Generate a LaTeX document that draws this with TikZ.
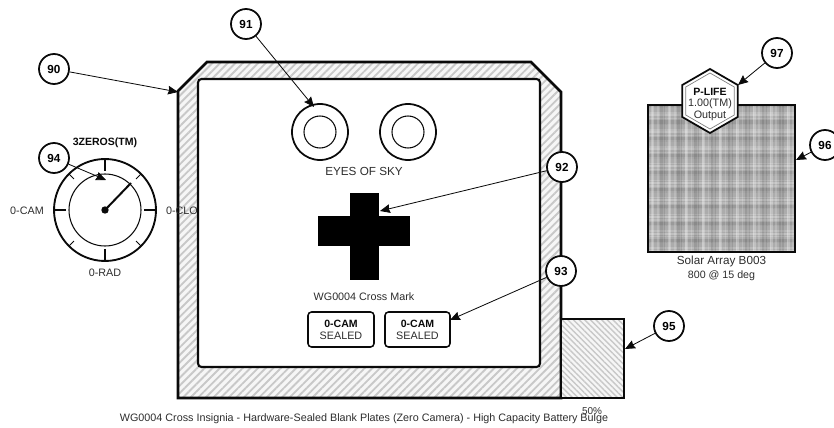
\documentclass[tikz,border=0pt]{standalone}
\usepackage{fontspec}
\setmainfont{Liberation Sans}
\usetikzlibrary{arrows.meta, shapes.geometric, patterns.meta, calc}
\definecolor{wgink}{RGB}{10,10,10}
\definecolor{wgtext}{RGB}{45,45,45}
\definecolor{wgstripe}{RGB}{200,200,200}
\definecolor{wgpale}{RGB}{246,246,246}
\definecolor{wgplaid}{RGB}{172,172,172}
\tikzset{
    callout/.style={circle, draw=wgink, line width=1.5pt, fill=white, minimum size=0.9cm, inner sep=0pt,
                    font=\fontsize{10}{11}\bfseries\selectfont},
    leader/.style={-{Stealth[length=3mm, width=2.6mm, inset=0.3mm]}, wgink, line width=0.7pt},
    lbl/.style={font=\fontsize{9.2}{11}\selectfont, text=wgtext, inner sep=0pt},
    blbl/.style={lbl, font=\fontsize{9}{11}\bfseries\selectfont, text=wgink},
    wall/.style={draw=wgink, line width=2.2pt, line join=miter},
    plate/.style={draw=wgink, line width=1.3pt, rounded corners=3pt, fill=white},
    hexplate/.style={regular polygon, regular polygon sides=6, shape border rotate=30, inner sep=0pt},
}
\begin{document}
\begin{tikzpicture}[x=0.03cm, y=-0.03cm]
    \useasboundingbox (0,0) rectangle (834,428);
    % body shell
    \fill[wgpale] (178,91) -- (207,62) -- (531,62) -- (561,92) -- (561,398) -- (178,398) -- cycle;
    \fill[pattern={Lines[angle=45, distance=4.6pt, line width=1.6pt]}, pattern color=wgstripe]
        (178,91) -- (207,62) -- (531,62) -- (561,92) -- (561,398) -- (178,398) -- cycle;
    \draw[wall] (178,91) -- (207,62) -- (531,62) -- (561,92) -- (561,398) -- (178,398) -- cycle;
    \draw[draw=wgink, line width=1.8pt, rounded corners=3pt, fill=white] (198,79) rectangle (540,367);
    % bulge
    \fill[wgpale] (561,319) rectangle (624,398);
    \fill[pattern={Lines[angle=-45, distance=3.4pt, line width=1.2pt]}, pattern color=wgstripe] (561,319) rectangle (624,398);
    \draw[wall] (561,319) rectangle (624,398);
    \node[lbl, font=\fontsize{8.5}{10}\selectfont] (pct) at (592,411) {50\%};
    \node[lbl] (cap) at (364,419) {WG0004 Cross Insignia - Hardware-Sealed Blank Plates (Zero Camera) - High Capacity Battery Bulge};
    % eyes
    \foreach \n/\x in {a/320, b/408} {
        \draw[wgink, line width=1.5pt] (\x,132) circle (28);
        \draw[wgink, line width=0.9pt] (\x,132) circle (16);
    }
    \node[lbl, font=\fontsize{10}{11}\selectfont] (eyes) at (364,171) {EYES OF SKY};
    % cross
    \fill[black] (350,193) rectangle (379,280);
    \fill[black] (318,216) rectangle (410,246);
    \node[lbl] (mark) at (364,297) {WG0004 Cross Mark};
    % sealed plates
    \draw[plate] (308,312) rectangle (374,347);
    \draw[plate] (385,312) rectangle (450,347);
    \foreach \n/\x in {a/341, b/417.5} {
        \node[blbl] (cam\n) at (\x,323.5) {0-CAM};
        \node[lbl] (seal\n) at (\x,336) {SEALED};
    }
    % gauge
    \coordinate (gc) at (105,210);
    \draw[wgink, line width=1.6pt] (gc) circle (51);
    \draw[wgink, line width=0.9pt] (gc) circle (36);
    \foreach \a in {0,90,180,270} { \draw[wgink, line width=1pt] ($(gc)+(\a:39)$) -- ($(gc)+(\a:51)$); }
    \foreach \a in {45,135,225,315} { \draw[wgink, line width=0.9pt] ($(gc)+(\a:44)$) -- ($(gc)+(\a:51)$); }
    \draw[wgink, line width=1.7pt] (gc) -- (131,183);
    \fill[wgink] (gc) circle (3.7);
    \node[blbl] (gtitle) at (105,142.5) {3ZEROS(TM)};
    \node[lbl] (gcam) at (27,211) {0-CAM};
    \node[lbl] (gclo) at (182,211) {0-CLO};
    \node[lbl] (grad) at (105,273) {0-RAD};
    % solar array
    \fill[wgplaid] (648,105) rectangle (795,252);
    \foreach \a in {0,90} {
        \fill[pattern={Lines[angle=\a, distance=4.8pt, line width=1.2pt]}, pattern color=white, opacity=0.18] (648,105) rectangle (795,252);
        \fill[pattern={Lines[angle=\a, distance=14.5pt, line width=4pt]}, pattern color=black, opacity=0.1] (648,105) rectangle (795,252);
        \fill[pattern={Lines[angle=\a, distance=14.5pt, line width=2pt, xshift=6pt, yshift=6pt]}, pattern color=white, opacity=0.25] (648,105) rectangle (795,252);
    }
    \draw[wgink, line width=1.6pt, line join=miter] (648,105) rectangle (795,252);
    \node[lbl, font=\fontsize{10}{11}\selectfont] (solar) at (721.5,261) {Solar Array B003};
    \node[lbl, font=\fontsize{9.1}{11}\selectfont] (deg) at (721.5,275.5) {800 @ 15 deg};
    % output badge
    \node[hexplate, draw=wgink, line width=1.5pt, fill=white, minimum size=1.92cm] (hexo) at (710,101) {};
    \node[hexplate, draw=gray, line width=0.6pt, minimum size=1.68cm] (hexi) at (710,101) {};
    \node[blbl] (plife) at (710,92) {P-LIFE};
    \node[lbl] (pval) at (710,104) {1.00(TM)};
    \node[lbl] (pout) at (710,116) {Output};
    % callouts
    \coordinate (tip90) at (178,92);
    \coordinate (tip91) at (314,107);
    \coordinate (tip92) at (380,211);
    \coordinate (tip93) at (450,320);
    \coordinate (tip94) at (106,180);
    \coordinate (tip95) at (625,349);
    \coordinate (tip96) at (796,160);
    \coordinate (tip97) at (738,85);
    \node[callout] (c90) at (54,69) {90};
    \node[callout] (c91) at (246,24) {91};
    \node[callout] (c92) at (562,167) {92};
    \node[callout] (c93) at (561,271) {93};
    \node[callout] (c94) at (54,158) {94};
    \node[callout] (c95) at (669,326) {95};
    \node[callout] (c96) at (825,145) {96};
    \node[callout] (c97) at (777,53) {97};
    \foreach \n in {90,91,92,93,94,95,96,97} { \draw[leader] (c\n) -- (tip\n); }
\end{tikzpicture}
\end{document}
